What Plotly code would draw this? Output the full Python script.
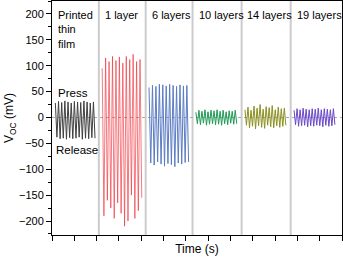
import plotly.graph_objects as go

# segment definitions (time span in s, colours)
seg_names = ["Printed<br>thin<br>film", "1 layer", "6 layers", "10 layers", "14 layers", "19 layers"]
seg_start = [0.15, 2.25, 4.35, 6.45, 8.65, 10.85]
seg_end = [2.0, 4.1, 6.2, 8.35, 10.55, 12.75]
seg_colors = ["#404040", "rgba(240,50,60,0.65)", "#5b7cc4", "#1f9a55", "#8c9020", "#6a48c8"]

peaks_film = [28, 31, 29, 32, 30, 28, 31, 30, 29, 32, 30, 28, 30]
troughs_film = [-38, -41, -40, -42, -39, -41, -40, -38, -42, -40, -41, -39, -40]

peaks_1 = [95, 115, 108, 118, 110, 117, 105, 118, 112, 122, 108, 112]
troughs_1 = [-190, -160, -175, -195, -165, -185, -210, -200, -150, -195, -180, -155]

peaks_6 = [58, 62, 60, 64, 63, 61, 64, 62, 60, 63, 61, 62]
troughs_6 = [-88, -92, -86, -90, -94, -89, -91, -95, -88, -90, -87, -86]

peaks_10 = [10, 14, 12, 15, 11, 14, 13, 15, 12, 14, 11, 13, 12, 14]
troughs_10 = [-12, -14, -11, -15, -13, -12, -14, -13, -15, -12, -14, -11, -13, -12]

peaks_14 = [15, 20, 14, 22, 18, 25, 16, 21, 19, 23, 15, 20, 17, 18]
troughs_14 = [-15, -20, -17, -22, -16, -19, -21, -15, -18, -20, -16, -19, -17, -15]

peaks_19 = [14, 17, 15, 18, 16, 15, 17, 16, 18, 15, 17, 16, 15, 17]
troughs_19 = [-14, -17, -16, -15, -18, -16, -17, -15, -16, -18, -15, -17, -16, -14]

seg_peaks = [peaks_film, peaks_1, peaks_6, peaks_10, peaks_14, peaks_19]
seg_troughs = [troughs_film, troughs_1, troughs_6, troughs_10, troughs_14, troughs_19]

separators = [2.1, 4.2, 6.3, 8.5, 10.7]
label_y = 214
label_x = [0.2, 2.3, 4.4, 6.5, 8.65, 10.9]

fig = go.Figure()

for s, e, pk, tr, col in zip(seg_start, seg_end, seg_peaks, seg_troughs, seg_colors):
    n = len(pk)
    step = (e - s) / (2 * n)
    xs, ys = [], []
    for i in range(n):
        xs.append(s + (2 * i) * step)
        ys.append(pk[i])
        xs.append(s + (2 * i + 1) * step)
        ys.append(tr[i])
    fig.add_trace(go.Scatter(x=xs, y=ys, mode="lines", line=dict(color=col, width=1), showlegend=False))

shapes = []
for sx in separators:
    shapes.append(dict(type="line", xref="x", yref="paper", x0=sx, x1=sx, y0=0, y1=1,
                       line=dict(color="#cccccc", width=2), layer="below"))
shapes.append(dict(type="line", xref="paper", yref="y", x0=0, x1=1, y0=0, y1=0,
                   line=dict(color="#aaaaaa", width=1, dash="dot"), layer="below"))

annotations = []
for name, lx in zip(seg_names, label_x):
    annotations.append(dict(x=lx, y=label_y, xref="x", yref="y", text=name, showarrow=False,
                            xanchor="left", yanchor="top", align="left",
                            font=dict(size=11, color="black")))
annotations.append(dict(x=0.2, y=48, xref="x", yref="y", text="Press", showarrow=False,
                        xanchor="left", yanchor="middle", font=dict(size=11.5, color="black")))
annotations.append(dict(x=0.08, y=-62, xref="x", yref="y", text="Release", showarrow=False,
                        xanchor="left", yanchor="middle", font=dict(size=11.5, color="black")))

fig.update_layout(
    width=343, height=258,
    margin=dict(l=52, r=1, t=1, b=23),
    paper_bgcolor="white", plot_bgcolor="white",
    font=dict(family="Liberation Sans, Arial, sans-serif", size=11, color="black"),
    shapes=shapes, annotations=annotations,
    xaxis=dict(range=[0, 13], dtick=1, tick0=0, showticklabels=False, ticks="outside",
               ticklen=5, tickcolor="black", showline=True, linecolor="black", linewidth=1,
               mirror=True, showgrid=False, zeroline=False,
               title=dict(text="Time (s)", font=dict(size=12), standoff=4)),
    yaxis=dict(range=[-227, 225], tickvals=[-200, -150, -100, -50, 0, 50, 100, 150, 200],
               ticks="outside", ticklen=5, tickcolor="black", showline=True, linecolor="black",
               linewidth=1, mirror=True, showgrid=False, zeroline=False,
               minor=dict(tickvals=[-225, -175, -125, -75, -25, 25, 75, 125, 175, 225],
                          ticks="outside", ticklen=3, tickcolor="black"),
               title=dict(text="V<sub>OC</sub> (mV)", font=dict(size=12), standoff=2)),
)

fig.write_html("out.html", config={"displayModeBar": False},
               post_script="document.body.style.margin='0';")
